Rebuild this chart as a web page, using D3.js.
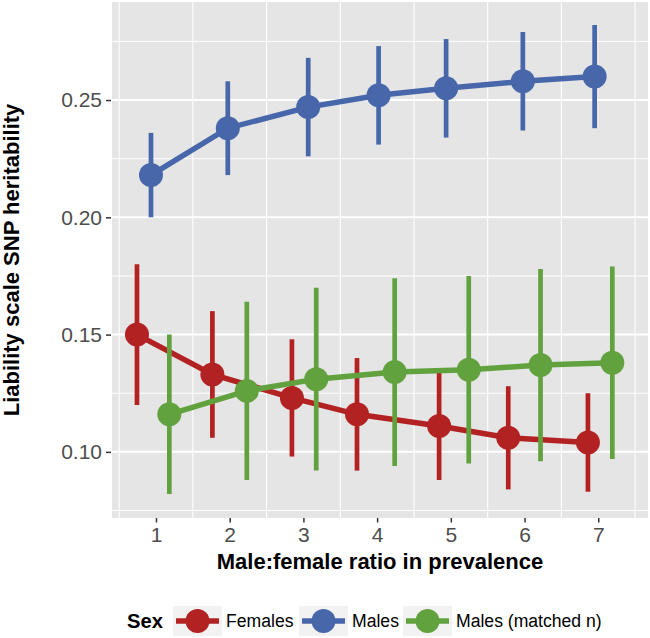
<!DOCTYPE html>
<html>
<head>
<meta charset="utf-8">
<script src="https://cdn.jsdelivr.net/npm/d3@7"></script>
<style>
body{margin:0;background:#fff;}
svg{display:block;font-family:"Liberation Sans",Arial,sans-serif;}
</style>
</head>
<body>
<svg id="chart" width="650" height="638"></svg>
<script>
// ---- data ----
const ratios = [1, 2, 3, 4, 5, 6, 7];
const xTicks = [1, 2, 3, 4, 5, 6, 7];
const yTicks = [0.10, 0.15, 0.20, 0.25];
const seriesNames = ["Females", "Males", "Males (matched n)"];
const seriesColors = ["#B22222", "#4867AA", "#62A23E"];

// jittered x positions (data units)
const femalesX = [0.742, 1.765, 2.844, 3.727, 4.841, 5.779, 6.860];
const malesX   = [0.932, 1.974, 3.065, 4.020, 4.936, 5.977, 6.951];
const matchedX = [1.181, 2.232, 3.174, 4.238, 5.243, 6.217, 7.191];

const femalesH  = [0.150, 0.133, 0.123, 0.116, 0.111, 0.106, 0.104];
const femalesLo = [0.120, 0.106, 0.098, 0.092, 0.088, 0.084, 0.083];
const femalesHi = [0.180, 0.160, 0.148, 0.140, 0.134, 0.128, 0.125];

const malesH  = [0.218, 0.238, 0.247, 0.252, 0.255, 0.258, 0.260];
const malesLo = [0.200, 0.218, 0.226, 0.231, 0.234, 0.237, 0.238];
const malesHi = [0.236, 0.258, 0.268, 0.273, 0.276, 0.279, 0.282];

const matchedH  = [0.116, 0.126, 0.131, 0.134, 0.135, 0.137, 0.138];
const matchedLo = [0.082, 0.088, 0.092, 0.094, 0.095, 0.096, 0.097];
const matchedHi = [0.150, 0.164, 0.170, 0.174, 0.175, 0.178, 0.179];

const series = [
  {name: seriesNames[0], color: seriesColors[0], x: femalesX, h: femalesH, lo: femalesLo, hi: femalesHi},
  {name: seriesNames[1], color: seriesColors[1], x: malesX, h: malesH, lo: malesLo, hi: malesHi},
  {name: seriesNames[2], color: seriesColors[2], x: matchedX, h: matchedH, lo: matchedLo, hi: matchedHi}
];

// ---- layout ----
const svg = d3.select("#chart");
const P = {left: 112, right: 648, top: 2, bottom: 518};
const x = d3.scaleLinear().domain([0.403, 7.675]).range([P.left, P.right]);
const y = d3.scaleLinear().domain([0.0718, 0.2918]).range([P.bottom, P.top]);

// panel
svg.append("rect").attr("x", P.left).attr("y", P.top)
  .attr("width", P.right - P.left).attr("height", P.bottom - P.top)
  .attr("fill", "#E5E5E5");

const grid = svg.append("g");
const yMinor = [0.075, 0.125, 0.175, 0.225, 0.275];
grid.selectAll(".ymin").data(yMinor).enter().append("line")
  .attr("x1", P.left).attr("x2", P.right)
  .attr("y1", d => y(d)).attr("y2", d => y(d))
  .attr("stroke", "#fff").attr("stroke-width", 1);
const xMinor = [0.5, 1.5, 2.5, 3.5, 4.5, 5.5, 6.5, 7.5];
grid.selectAll(".xmin").data(xMinor).enter().append("line")
  .attr("x1", d => x(d)).attr("x2", d => x(d))
  .attr("y1", P.top).attr("y2", P.bottom)
  .attr("stroke", "#fff").attr("stroke-width", 1.1);
grid.selectAll(".ymaj").data(yTicks).enter().append("line")
  .attr("x1", P.left).attr("x2", P.right)
  .attr("y1", d => y(d)).attr("y2", d => y(d))
  .attr("stroke", "#fff").attr("stroke-width", 2);

// axes
const yAxis = d3.axisLeft(y).tickValues(yTicks).tickFormat(d3.format(".2f")).tickSize(5).tickPadding(4);
const gy = svg.append("g").attr("transform", `translate(${P.left - 1},0)`).call(yAxis);
gy.select(".domain").remove();
gy.selectAll(".tick line").attr("stroke", "#333").attr("stroke-width", 1.5);
gy.selectAll(".tick text").attr("fill", "#4D4D4D").attr("font-size", 21)
  .attr("font-family", "Liberation Sans, Arial, sans-serif");

const xAxis = d3.axisBottom(x).tickValues(xTicks).tickFormat(d3.format("d")).tickSize(4.5).tickPadding(4.5);
const gx = svg.append("g").attr("transform", `translate(0,${P.bottom})`).call(xAxis);
gx.select(".domain").remove();
gx.selectAll(".tick line").attr("stroke", "#333").attr("stroke-width", 1.5);
gx.selectAll(".tick text").attr("fill", "#4D4D4D").attr("font-size", 21)
  .attr("font-family", "Liberation Sans, Arial, sans-serif");

// axis titles
svg.append("text").attr("x", (P.left + P.right) / 2).attr("y", 569)
  .attr("text-anchor", "middle").attr("font-size", 22).attr("font-weight", "bold")
  .attr("fill", "#000").text("Male:female ratio in prevalence");
svg.append("text").attr("transform", `translate(19,${(P.top + P.bottom) / 2}) rotate(-90)`)
  .attr("text-anchor", "middle").attr("font-size", 22).attr("font-weight", "bold")
  .attr("fill", "#000").text("Liability scale SNP heritability");

// series
const plot = svg.append("g");
series.forEach(s => {
  const pts = ratios.map((r, i) => ({x: s.x[i], h: s.h[i], lo: s.lo[i], hi: s.hi[i]}));
  const g = plot.append("g");
  g.selectAll(".err").data(pts).enter().append("line")
    .attr("x1", d => x(d.x)).attr("x2", d => x(d.x))
    .attr("y1", d => y(d.lo)).attr("y2", d => y(d.hi))
    .attr("stroke", s.color).attr("stroke-width", 4.7);
  g.append("path").datum(pts)
    .attr("d", d3.line().x(d => x(d.x)).y(d => y(d.h)))
    .attr("fill", "none").attr("stroke", s.color).attr("stroke-width", 5.5);
  g.selectAll(".pt").data(pts).enter().append("circle")
    .attr("cx", d => x(d.x)).attr("cy", d => y(d.h)).attr("r", 12)
    .attr("fill", s.color);
});

// legend
const leg = svg.append("g");
const legY = 621;
leg.append("text").attr("x", 127).attr("y", legY + 7).attr("font-size", 20.2)
  .attr("font-weight", "bold").text("Sex");
const keyX = [173, 299, 403];
series.forEach((s, i) => {
  const kx = keyX[i];
  leg.append("rect").attr("x", kx).attr("y", legY - 15).attr("width", 49).attr("height", 30)
    .attr("fill", "#F2F2F2");
  leg.append("line").attr("x1", kx + 3).attr("x2", kx + 46).attr("y1", legY).attr("y2", legY)
    .attr("stroke", s.color).attr("stroke-width", 5.5);
  leg.append("circle").attr("cx", kx + 24.5).attr("cy", legY).attr("r", 12).attr("fill", s.color);
  leg.append("text").attr("x", kx + 53).attr("y", legY + 6.3).attr("font-size", 17.6)
    .attr("fill", "#000").text(s.name);
});
</script>
</body>
</html>
